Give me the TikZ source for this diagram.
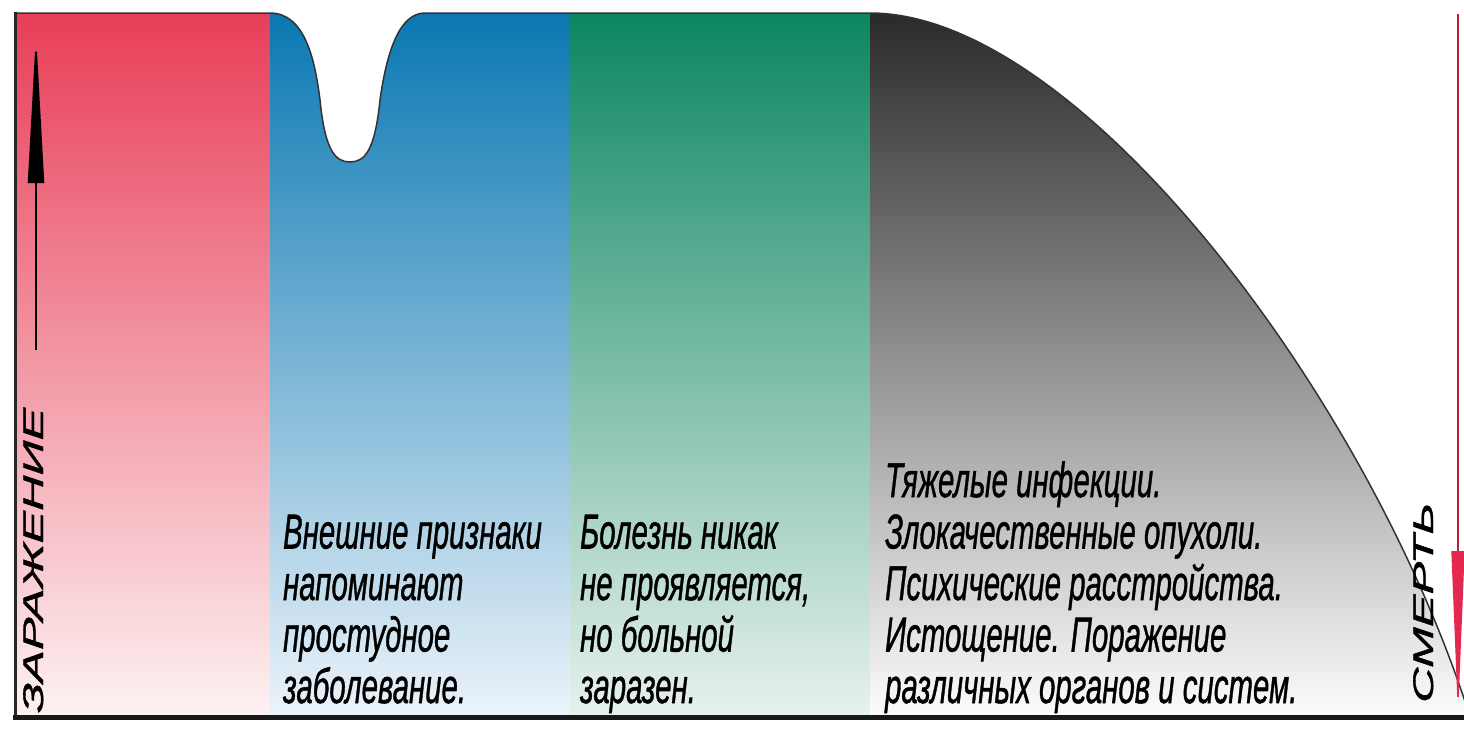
\documentclass[tikz,border=0pt]{standalone}
\usepackage{fontspec}
\setmainfont{Liberation Sans}[ItalicFeatures={FakeBold=1.2}]
\usetikzlibrary{arrows.meta}
\definecolor{redTop}{RGB}{232,62,88}
\definecolor{redBottom}{RGB}{253,242,242}
\definecolor{blueTop}{RGB}{10,120,178}
\definecolor{blueBottom}{RGB}{236,243,250}
\definecolor{greenTop}{RGB}{12,134,98}
\definecolor{greenBottom}{RGB}{232,242,237}
\definecolor{grayTop}{RGB}{42,42,42}
\definecolor{grayBottom}{RGB}{252,252,252}
\definecolor{deathRed}{RGB}{228,40,78}
\newcommand{\notefont}{\fontsize{49}{51.5}\selectfont\itshape}
\tikzstyle{note} = [anchor=base west, 
align=left, 
inner sep=0pt, 
xscale=0.6, 
font=\notefont, 
text=black]
\tikzstyle{sideLabel} = [anchor=base west, 
rotate=90, 
yscale=0.58, 
inner sep=0pt, 
font=\notefont, 
text=black]
\tikzstyle{outline} = [line width=1.5pt, draw=black!80]
\tikzstyle{riseArrow} = [line width=2pt, -{Triangle[length=150pt,width=16pt]}]
\tikzstyle{fallArrow} = [line width=1.5pt, draw=deathRed!80!black, -{Triangle[length=165pt,width=13pt,color=deathRed,fill=deathRed]}]

\begin{document}
\begin{tikzpicture}[x=1pt, y=-1pt]
\useasboundingbox (0,0) rectangle (1464,729);
\fill[white] (0,0) rectangle (1464,729);

\shade[top color=redTop, bottom color=redBottom] (15,13) rectangle (270,717);
\shade[top color=blueTop, bottom color=blueBottom] (270,717) -- (270,13)
  .. controls (305,13) and (315,60) .. (320,100)
  .. controls (325,150) and (335,162) .. (350,162)
  .. controls (365,162) and (375,150) .. (380,100)
  .. controls (387,50) and (400,13) .. (425,13)
  -- (570,13) -- (570,717) -- cycle;
\shade[top color=greenTop, bottom color=greenBottom] (570,13) rectangle (870,717);
\shade[top color=grayTop, bottom color=grayBottom] (870,717) -- (870,13)
  .. controls (1080,13) and (1370,400) .. (1470,717) -- cycle;

\draw[outline] (15,13) -- (270,13)
  .. controls (305,13) and (315,60) .. (320,100)
  .. controls (325,150) and (335,162) .. (350,162)
  .. controls (365,162) and (375,150) .. (380,100)
  .. controls (387,50) and (400,13) .. (425,13)
  -- (870,13)
  .. controls (1080,13) and (1370,400) .. (1470,717);
\draw[line width=3pt, black!85] (15,12) -- (15,718);
\draw[line width=5pt, black!90] (13,717) -- (1464,717);

\coordinate (arrowFoot) at (36,350);
\coordinate (arrowTip) at (36,33);
\coordinate (deathTop) at (1458,14);
\coordinate (deathFoot) at (1458,716);
\draw[riseArrow] (arrowFoot) -- (arrowTip);
\draw[fallArrow] (deathTop) -- (deathFoot);

\node (infectionLabel) [sideLabel] at (43,713) {ЗАРАЖЕНИЕ};
\node (deathLabel) [sideLabel] at (1433,703) {СМЕРТЬ};
\node (coldNote) [note] at (283,703) {Внешние признаки\\напоминают\\простудное\\заболевание.};
\node (latentNote) [note] at (580,703) {Болезнь никак\\не проявляется,\\но больной\\заразен.};
\node (severeNote) [note] at (885,703) {Тяжелые инфекции.\\Злокачественные опухоли.\\Психические расстройства.\\Истощение. Поражение\\различных органов и систем.};
\end{tikzpicture}
\end{document}
